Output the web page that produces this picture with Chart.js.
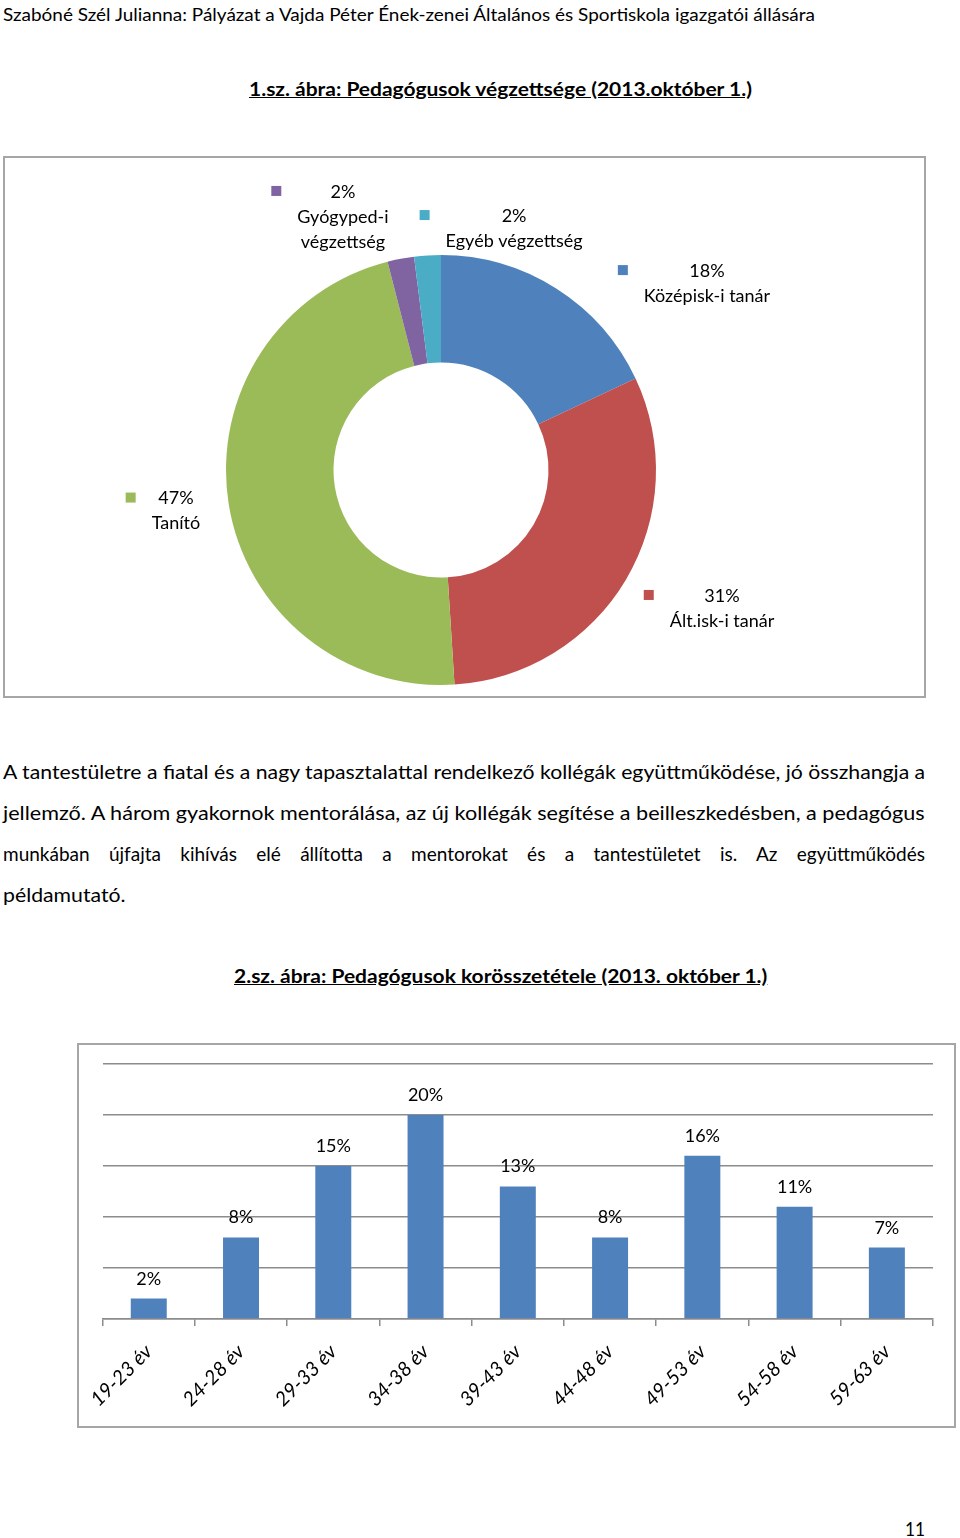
<!DOCTYPE html>
<html lang="hu">
<head>
<meta charset="utf-8">
<title>Pedagógusok</title>
<script src="https://cdn.jsdelivr.net/npm/chart.js@4.4.1/dist/chart.umd.min.js"></script>
<style>
  body { margin: 0; width: 960px; height: 1538px; position: relative; background: #fff; font-family: Lato, sans-serif; color: #000; overflow: hidden; }
  .t { position: absolute; white-space: nowrap; line-height: 1; transform-origin: 0 50%; }
  .title { font-weight: bold; text-decoration: underline; font-size: 19px; }
  .frame { position: absolute; border: 2px solid #a6a6a6; box-sizing: border-box; }
  .frame canvas { position: absolute; left: 0; top: 0; }
</style>
</head>
<body>

<div class="t" data-x="3" data-w="812" data-cy="14" style="font-size:18px">Szabóné Szél Julianna: Pályázat a Vajda Péter Ének-zenei Általános és Sportiskola igazgatói állására</div>
<div class="t title" data-x="249" data-w="503" data-cy="88">1.sz. ábra: Pedagógusok végzettsége (2013.október 1.)</div>

<div class="frame" style="left:3px;top:156px;width:923px;height:542px">
  <canvas id="eduChart" width="919" height="538"></canvas>
</div>

<div class="t" data-x="3" data-w="922" data-cy="771" style="font-size:19px">A tantestületre a fiatal és a nagy tapasztalattal rendelkező kollégák együttműködése, jó összhangja a</div>
<div class="t" data-x="3" data-w="922" data-cy="812" style="font-size:19px">jellemző. A három gyakornok mentorálása, az új kollégák segítése a beilleszkedésben, a pedagógus</div>
<div class="t" data-x="3" data-w="922" data-cy="853" data-j="1" style="font-size:19px">munkában újfajta kihívás elé állította a mentorokat és a tantestületet is. Az együttműködés</div>
<div class="t" data-x="3" data-w="123" data-cy="894" style="font-size:19px">példamutató.</div>

<div class="t title" data-x="234" data-w="533" data-cy="975">2.sz. ábra: Pedagógusok korösszetétele (2013. október 1.)</div>

<div class="frame" style="left:77px;top:1043px;width:879px;height:385px">
  <canvas id="ageChart" width="875" height="381"></canvas>
</div>

<div class="t" data-x="905" data-w="20" data-cy="1528" style="font-size:19px">11</div>

<script>
// --- data ---
const eduCategories = ['Középisk-i tanár', 'Ált.isk-i tanár', 'Tanító', 'Gyógyped-i végzettség', 'Egyéb végzettség'];
const eduShares = [18, 31, 47, 2, 2];
const eduColors = ['#4f81bd', '#c0504d', '#9bbb59', '#8064a2', '#4bacc6'];

const ageGroups = ['19-23 év', '24-28 év', '29-33 év', '34-38 év', '39-43 év', '44-48 év', '49-53 év', '54-58 év', '59-63 év'];
const ageShares = [2, 8, 15, 20, 13, 8, 16, 11, 7];
const ageTicks = [0, 5, 10, 15, 20, 25];

// label layout for the doughnut (block centre, in outer radii from the centre)
const labelSpots = [[1.237, -0.867], [1.307, 0.644], [-1.233, 0.191], [-0.456, -1.177], [0.340, -1.123]];
const wrapLabel = [false, false, false, true, false];

// fit text lines to the widths measured on the page
document.querySelectorAll('.t').forEach(el => {
  const x = +el.dataset.x, w = +el.dataset.w, cy = +el.dataset.cy;
  el.style.left = x + 'px';
  el.style.top = (cy - el.offsetHeight / 2) + 'px';
  const natural = el.offsetWidth;
  if (el.dataset.j && natural < w) {
    el.style.width = w + 'px';
    el.style.whiteSpace = 'normal';
    el.style.textAlign = 'justify';
    el.style.textAlignLast = 'justify';
  } else {
    el.style.transform = 'scaleX(' + (w / natural) + ')';
  }
});

Chart.defaults.font.family = 'Lato';
Chart.defaults.color = '#000';

const donutLabels = {
  id: 'donutLabels',
  afterDatasetsDraw(chart) {
    const ctx = chart.ctx;
    const meta = chart.getDatasetMeta(0);
    ctx.save();
    ctx.font = '18px Lato';
    ctx.textAlign = 'center';
    ctx.textBaseline = 'middle';
    meta.data.forEach((arc, i) => {
      const r = arc.outerRadius;
      const x = arc.x + labelSpots[i][0] * r;
      const y = arc.y + labelSpots[i][1] * r;
      const name = eduCategories[i];
      const lines = [eduShares[i] + '%'].concat(wrapLabel[i] ? name.split(' ') : [name]);
      const w = Math.max(...lines.map(l => ctx.measureText(l).width));
      const top = y - (lines.length - 1) * 25 / 2;
      ctx.fillStyle = '#000';
      lines.forEach((l, k) => ctx.fillText(l, x, top + k * 25));
      ctx.fillStyle = eduColors[i];
      ctx.fillRect(x - w / 2 - 26, top - 6, 10, 10);
    });
    ctx.restore();
  }
};

new Chart(document.getElementById('eduChart'), {
  type: 'doughnut',
  data: {
    labels: eduCategories,
    datasets: [{ data: eduShares, backgroundColor: eduColors, borderWidth: 0 }]
  },
  options: {
    responsive: false,
    animation: false,
    cutout: '50%',
    layout: { padding: { left: 221, right: 268, top: 97, bottom: 11 } },
    plugins: { legend: { display: false }, tooltip: { enabled: false } }
  },
  plugins: [donutLabels]
});

const barLabels = {
  id: 'barLabels',
  afterDatasetsDraw(chart) {
    const ctx = chart.ctx;
    ctx.save();
    ctx.font = '18px Lato';
    ctx.textAlign = 'center';
    ctx.textBaseline = 'alphabetic';
    ctx.fillStyle = '#000';
    chart.getDatasetMeta(0).data.forEach((bar, i) => {
      ctx.fillText(ageShares[i] + '%', bar.x, bar.y - 14);
    });
    ctx.restore();
  }
};

new Chart(document.getElementById('ageChart'), {
  type: 'bar',
  data: {
    labels: ageGroups,
    datasets: [{ data: ageShares, backgroundColor: '#4f81bd', categoryPercentage: 1, barPercentage: 0.39 }]
  },
  options: {
    responsive: false,
    animation: false,
    layout: { padding: { left: 23, right: 21, top: 19, bottom: 0 } },
    plugins: { legend: { display: false }, tooltip: { enabled: false } },
    scales: {
      x: {
        grid: { offset: true, drawOnChartArea: false, color: '#8c8c8c', lineWidth: 1.5, tickLength: 7 },
        border: { color: '#8c8c8c', width: 1.5 },
        ticks: { minRotation: 45, maxRotation: 45, padding: 14, font: { size: 20, style: 'italic' } },
        afterFit(s) { s.height = 107; }
      },
      y: {
        min: ageTicks[0],
        max: ageTicks[ageTicks.length - 1],
        afterBuildTicks(s) { s.ticks = ageTicks.map(v => ({ value: v })); },
        ticks: { display: false },
        grid: { color: '#8c8c8c', lineWidth: 1.5, drawTicks: false },
        border: { display: false },
        afterFit(s) { s.width = 0; }
      }
    }
  },
  plugins: [barLabels]
});
</script>
</body>
</html>
